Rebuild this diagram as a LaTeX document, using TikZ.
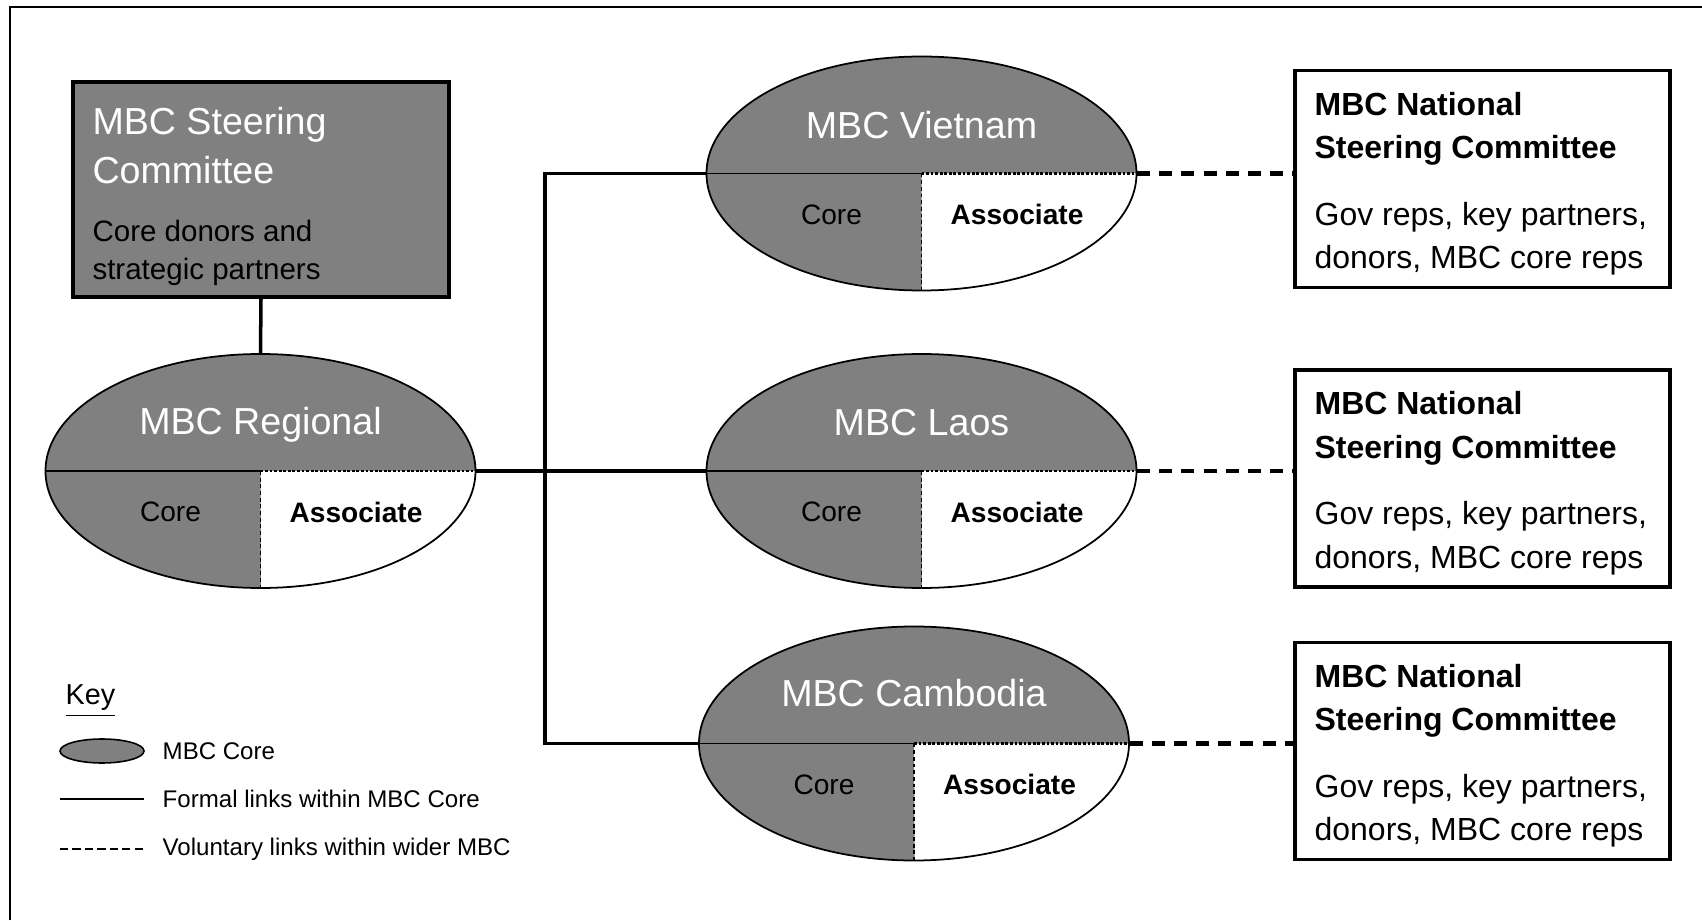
\documentclass[tikz,border=0pt]{standalone}
\usepackage{fontspec}
\setmainfont{Liberation Sans}
\usepackage{tikz}
\usetikzlibrary{shapes.geometric}
\definecolor{coregray}{gray}{0.5}

\newcommand{\mbctitle}{\fontsize{10.7}{13.8}\selectfont}
\newcommand{\mbcsub}{\fontsize{8.4}{10.8}\selectfont}
\newcommand{\mbcpart}{\fontsize{8}{10}\selectfont}
\newcommand{\mbcnat}{\fontsize{9.1}{12.4}\selectfont}
\newcommand{\mbckey}{\fontsize{6.85}{9}\selectfont}

\tikzset{
	coreell/.style={ellipse,fill=coregray,inner sep=0pt,minimum width=4.3cm,minimum height=2.34cm},
	rim/.style={line width=0.5pt},
	half/.style={line width=0.45pt},
	halfdash/.style={line width=0.6pt,dash pattern=on 0.8pt off 0.5pt},
	splitdash/.style={line width=0.45pt,dash pattern=on 1.1pt off 0.8pt},
	formal/.style={line width=1pt},
	voluntary/.style={line width=1.2pt,dash pattern=on 3.7pt off 2.6pt},
	ttl/.style={text=white,font=\mbctitle,inner sep=0pt},
	part/.style={font=\mbcpart,inner sep=0pt},
	natbox/.style={draw,line width=0.9pt,fill=white,minimum width=3.75cm,minimum height=2.17cm},
	keytext/.style={font=\mbckey,anchor=west,inner sep=0pt}
}

\begin{document}
\begin{tikzpicture}
	\useasboundingbox (0,0) rectangle (17.02,9.20);
	%frame
	\draw[line width=0.65pt] (0.10,0) -- (0.10,9.13) -- (17.02,9.13);

	%steering committee
	\node[draw,line width=0.9pt,fill=coregray,minimum width=3.76cm,minimum height=2.15cm] (steer) at (2.61,7.305) {};
		\node[ttl,anchor=west,align=left] (steer-t) at ([shift={(0.204,-0.65)}]steer.north west) {MBC Steering\\Committee};
		\node[inner sep=0pt,font=\mbcsub,anchor=west,align=left] (steer-s) at ([shift={(0.204,-1.725)}]steer.north west) {Core donors and\\strategic partners};

	%ellipses
	\node[coreell] (reg) at (2.605,4.49) {};
	\fill[white] (reg.center) -- (reg.east) arc[start angle=0,end angle=-90,x radius=2.15cm,y radius=1.17cm] -- cycle;
	\draw[rim] (reg.center) ellipse [x radius=2.15cm, y radius=1.17cm];
	\draw[half] (reg.west) -- (reg.center);
	\draw[halfdash] (reg.center) -- (reg.east);
	\draw[splitdash] (reg.center) -- (reg.south);
		\node[ttl] (reg-t) at ([yshift=0.46cm]reg.center) {MBC Regional};
		\node[part] (reg-c) at ([shift={(-0.9,-0.41)}]reg.center) {Core};
		\node[part,font=\mbcpart\bfseries] (reg-a) at ([shift={(0.955,-0.41)}]reg.center) {Associate};

	\node[coreell] (vn) at (9.215,7.465) {};
	\fill[white] (vn.center) -- (vn.east) arc[start angle=0,end angle=-90,x radius=2.15cm,y radius=1.17cm] -- cycle;
	\draw[rim] (vn.center) ellipse [x radius=2.15cm, y radius=1.17cm];
	\draw[half] (vn.west) -- (vn.center);
	\draw[halfdash] (vn.center) -- (vn.east);
	\draw[splitdash] (vn.center) -- (vn.south);
		\node[ttl] (vn-t) at ([yshift=0.48cm]vn.center) {MBC Vietnam};
		\node[part] (vn-c) at ([shift={(-0.9,-0.41)}]vn.center) {Core};
		\node[part,font=\mbcpart\bfseries] (vn-a) at ([shift={(0.955,-0.41)}]vn.center) {Associate};

	\node[coreell] (lao) at (9.215,4.49) {};
	\fill[white] (lao.center) -- (lao.east) arc[start angle=0,end angle=-90,x radius=2.15cm,y radius=1.17cm] -- cycle;
	\draw[rim] (lao.center) ellipse [x radius=2.15cm, y radius=1.17cm];
	\draw[half] (lao.west) -- (lao.center);
	\draw[halfdash] (lao.center) -- (lao.east);
	\draw[splitdash] (lao.center) -- (lao.south);
		\node[ttl] (lao-t) at ([yshift=0.48cm]lao.center) {MBC Laos};
		\node[part] (lao-c) at ([shift={(-0.9,-0.41)}]lao.center) {Core};
		\node[part,font=\mbcpart\bfseries] (lao-a) at ([shift={(0.955,-0.41)}]lao.center) {Associate};

	\node[coreell] (cam) at (9.14,1.765) {};
	\fill[white] (cam.center) -- (cam.east) arc[start angle=0,end angle=-90,x radius=2.15cm,y radius=1.17cm] -- cycle;
	\draw[rim] (cam.center) ellipse [x radius=2.15cm, y radius=1.17cm];
	\draw[half] (cam.west) -- (cam.center);
	\draw[halfdash] (cam.center) -- (cam.east);
	\draw[splitdash] (cam.center) -- (cam.south);
		\node[ttl] (cam-t) at ([yshift=0.5cm]cam.center) {MBC Cambodia};
		\node[part] (cam-c) at ([shift={(-0.9,-0.41)}]cam.center) {Core};
		\node[part,font=\mbcpart\bfseries] (cam-a) at ([shift={(0.955,-0.41)}]cam.center) {Associate};

	%national steering committees
	\node[natbox] (nat1) at (14.825,7.41) {};
	\node[natbox] (nat2) at (14.825,4.415) {};
	\node[natbox] (nat3) at (14.825,1.6925) {};
		\node[font=\mbcnat\bfseries,anchor=west,align=left,inner sep=0pt] (nat1-h) at ([shift={(0.205,-0.6)}]nat1.north west) {MBC National\\Steering Committee};
		\node[font=\mbcnat,anchor=west,align=left,inner sep=0pt] (nat1-b) at ([shift={(0.205,-1.7)}]nat1.north west) {Gov reps, key partners,\\donors, MBC core reps};
		\node[font=\mbcnat\bfseries,anchor=west,align=left,inner sep=0pt] (nat2-h) at ([shift={(0.205,-0.6)}]nat2.north west) {MBC National\\Steering Committee};
		\node[font=\mbcnat,anchor=west,align=left,inner sep=0pt] (nat2-b) at ([shift={(0.205,-1.7)}]nat2.north west) {Gov reps, key partners,\\donors, MBC core reps};
		\node[font=\mbcnat\bfseries,anchor=west,align=left,inner sep=0pt] (nat3-h) at ([shift={(0.205,-0.6)}]nat3.north west) {MBC National\\Steering Committee};
		\node[font=\mbcnat,anchor=west,align=left,inner sep=0pt] (nat3-b) at ([shift={(0.205,-1.7)}]nat3.north west) {Gov reps, key partners,\\donors, MBC core reps};

	%links
	\coordinate (bus) at (5.45,4.49);
	\draw[formal] (steer.south) -- (reg.north);							%steering--regional
	\draw[formal] (reg.east) -- (lao.west);								%regional--laos
	\draw[formal] (vn.west) -- (vn.west -| bus) |- (cam.west);			%vietnam--cambodia
	\draw[voluntary] (vn.east) -- (vn.east -| nat1.west);				%vietnam--national
	\draw[voluntary] (lao.east) -- (lao.east -| nat2.west);				%laos--national
	\draw[voluntary] (cam.east) -- (cam.east -| nat3.west);				%cambodia--national

	%key
	\node[font=\fontsize{8.2}{10}\selectfont,anchor=west,inner sep=0pt] (key) at (0.65,2.19) {\underline{Key}};
	\node[ellipse,draw,line width=0.45pt,fill=coregray,inner sep=0pt,minimum width=0.84cm,minimum height=0.24cm] (key-core) at (1.02,1.69) {};
		\node[keytext] (key-core-l) at (1.62,1.69) {MBC Core};
	\coordinate (kf1) at (0.60,1.21);
	\coordinate (kf2) at (1.44,1.21);
	\draw[line width=0.4pt] (kf1) -- (kf2);
		\node[keytext] (key-formal-l) at (1.62,1.21) {Formal links within MBC Core};
	\coordinate (kv1) at (0.60,0.71);
	\coordinate (kv2) at (1.44,0.71);
	\draw[line width=0.6pt,dash pattern=on 2.3pt off 1.25pt] (kv1) -- (kv2);
		\node[keytext] (key-vol-l) at (1.62,0.71) {Voluntary links within wider MBC};
\end{tikzpicture}
\end{document}
